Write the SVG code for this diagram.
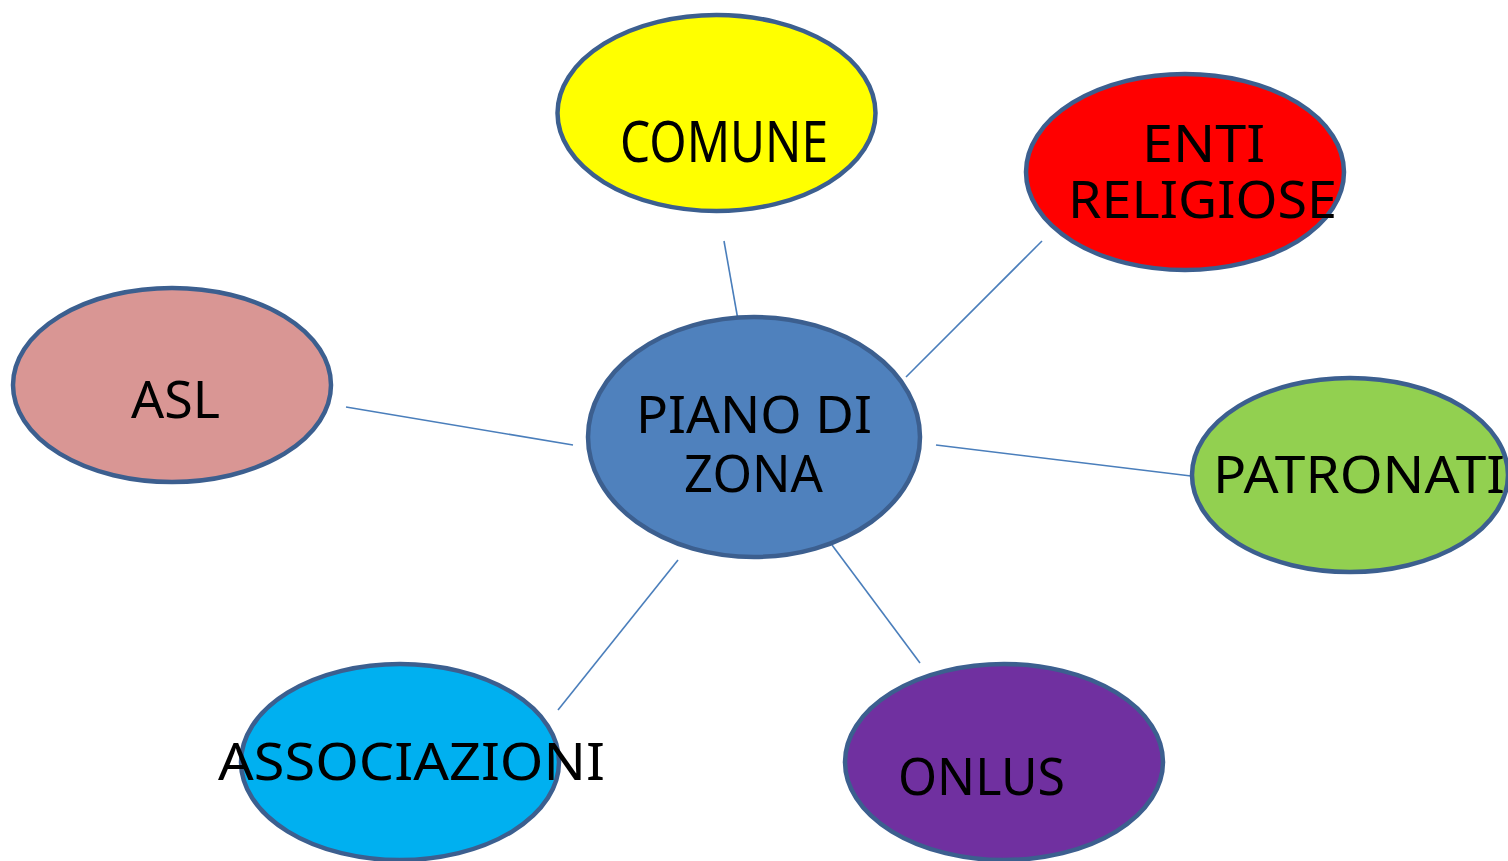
<svg xmlns="http://www.w3.org/2000/svg" width="1508" height="861" viewBox="0 0 1508 861">
<style>
.n{stroke:#3c5f8f;stroke-width:4.5}
.t{font-family:"Comic Sans MS","Noto Sans","DejaVu Sans",sans-serif;font-size:51px;fill:#000}
.c{stroke:#4a7ebb;stroke-width:1.6;fill:none}
</style>
<rect width="1508" height="861" fill="#fff"/>
<g id="connectors">
<line class="c" x1="724" y1="241" x2="738" y2="320"/>
<line class="c" x1="1042" y1="241" x2="906" y2="377"/>
<line class="c" x1="936" y1="445" x2="1191" y2="476"/>
<line class="c" x1="346" y1="407" x2="573" y2="445"/>
<line class="c" x1="678" y1="560" x2="558" y2="710"/>
<line class="c" x1="832" y1="545" x2="920" y2="663"/>
</g>
<g id="comune">
<ellipse class="n" cx="716.5" cy="113" rx="159" ry="98" fill="#ffff00"/>
<text class="t" x="620" y="162" textLength="208" lengthAdjust="spacingAndGlyphs" style="font-size:57px">COMUNE</text>
</g>
<g id="enti">
<ellipse class="n" cx="1185" cy="172" rx="159" ry="98" fill="#ff0000"/>
<text class="t" x="1142" y="162" textLength="123" lengthAdjust="spacingAndGlyphs">ENTI</text>
<text class="t" x="1068" y="218" textLength="269" lengthAdjust="spacingAndGlyphs">RELIGIOSE</text>
</g>
<g id="patronati">
<ellipse class="n" cx="1350" cy="475" rx="158" ry="97" fill="#92d050"/>
<text class="t" x="1213" y="493" textLength="292" lengthAdjust="spacingAndGlyphs">PATRONATI</text>
</g>
<g id="asl">
<ellipse class="n" cx="172" cy="385" rx="159" ry="97" fill="#d99694"/>
<text class="t" x="131" y="418" textLength="89" lengthAdjust="spacingAndGlyphs">ASL</text>
</g>
<g id="piano">
<ellipse class="n" cx="754" cy="437" rx="166" ry="120" fill="#4f81bd"/>
<text class="t" x="636" y="433" textLength="236" lengthAdjust="spacingAndGlyphs">PIANO DI</text>
<text class="t" x="684" y="492" textLength="139" lengthAdjust="spacingAndGlyphs">ZONA</text>
</g>
<g id="associazioni">
<ellipse class="n" cx="400" cy="762" rx="159" ry="98" fill="#00b0f0"/>
<text class="t" x="218" y="780" textLength="387" lengthAdjust="spacingAndGlyphs">ASSOCIAZIONI</text>
</g>
<g id="onlus">
<ellipse class="n" cx="1004" cy="762" rx="159" ry="98" fill="#7030a0"/>
<text class="t" x="898" y="795" textLength="167" lengthAdjust="spacingAndGlyphs">ONLUS</text>
</g>
</svg>
